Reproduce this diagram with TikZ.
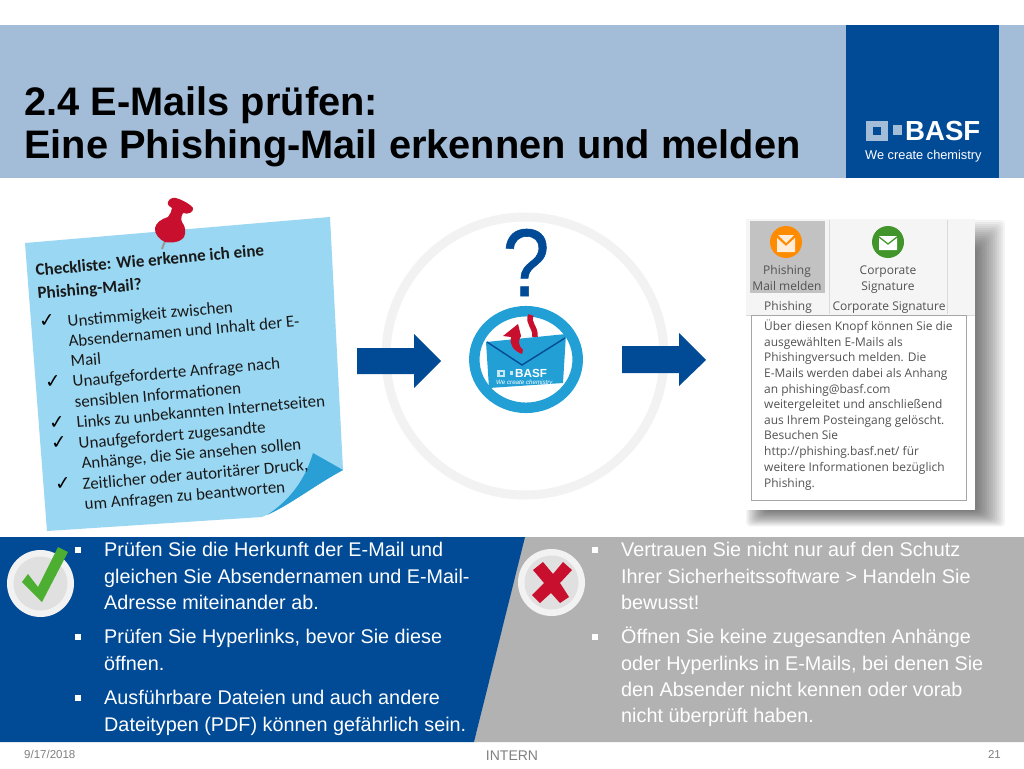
\documentclass[tikz,border=0pt]{standalone}
\usepackage{fontspec}
\setmainfont{Liberation Sans}
\newfontfamily\notefont{Carlito}
\newfontfamily\uifont{Open Sans}
\newfontfamily\symfont{DejaVu Sans}
\newfontfamily\qmfont[FakeBold=0.6]{Liberation Sans}
\definecolor{basfblue}{HTML}{004A96}
\definecolor{bandblue}{HTML}{A3BDD8}
\definecolor{notesky}{HTML}{9AD7F2}
\definecolor{foldsky}{HTML}{2A9FD6}
\definecolor{iconsky}{HTML}{22A0D6}
\definecolor{pinred}{HTML}{C8102E}
\definecolor{okgreen}{HTML}{4CAF32}
\definecolor{panelgray}{HTML}{B2B2B2}
\tikzset{
  x=1pt,y=-1pt,
  titletext/.style={anchor=base west,inner sep=0,font=\fontsize{39.8}{39.8}\selectfont\bfseries,text=black},
  notetext/.style={anchor=base west,inner sep=0,rotate=5,font=\notefont\fontsize{16.9}{16.9}\selectfont,text=black!90},
  notehead/.style={notetext,font=\notefont\fontsize{17}{17}\selectfont\bfseries},
  notecheck/.style={inner sep=0,rotate=5,font=\symfont\fontsize{19}{19}\selectfont,text=black},
  whitetext/.style={anchor=base west,inner sep=0,font=\fontsize{19.8}{19.8}\selectfont,text=white},
  bulletmark/.style={fill=white,minimum size=6pt,inner sep=0,shape=rectangle},
  uitext/.style={inner sep=0,anchor=base,font=\uifont\fontsize{12}{12}\selectfont,text=black!68},
  uibody/.style={inner sep=0,anchor=base west,font=\uifont\fontsize{11.95}{11.95}\selectfont,text=black!68},
  footertext/.style={inner sep=0,anchor=base,text=black!50},
}
\begin{document}
\begin{tikzpicture}
\useasboundingbox (0,0) rectangle (1024,768);
\fill[white] (0,0) rectangle (1024,768);
% header
\fill[bandblue] (0,25) rectangle (1024,178);
\fill[basfblue] (846,25) rectangle (999,178);
\node[titletext] (t1) at (24,115) {2.4 E-Mails prüfen:};
\node[titletext] (t2) at (24,158) {Eine Phishing-Mail erkennen und melden};
% logo
\fill[bandblue] (866,121) rectangle (888,141);
\fill[basfblue] (873,127) rectangle (881,135);
\fill[bandblue] (893,125) rectangle (902,135);
\node[inner sep=0,anchor=base west,text=white,font=\fontsize{27.6}{27.6}\selectfont\bfseries] (logo) at (905,140.5) {BASF};
\node[inner sep=0,anchor=base west,text=white,font=\fontsize{12.8}{12.8}\selectfont] (claim) at (865,159) {We create chemistry};
% sticky note
\fill[notesky] (25,243) -- (330,217) -- (343,470) .. controls (315,485) and (290,505) .. (262,517) -- (47,531) -- cycle;
\fill[foldsky] (313,453) -- (343,470) .. controls (315,485) and (290,505) .. (267,515) .. controls (290,500) and (305,480) .. cycle;
% pin
\draw[black!40,line width=2pt] (165,241) -- (162,249);
\fill[pinred] (168,202) .. controls (169,199) and (173,197) .. (176,198) .. controls (183,200) and (190,204) .. (193,208)
  .. controls (194,212) and (188,215) .. (183,213) .. controls (181,216) and (181,220) .. (182,222)
  .. controls (186,227) and (186,233) .. (184,237) .. controls (180,243) and (170,243) .. (165,242)
  .. controls (160,240) and (154,234) .. (155,228) .. controls (156,223) and (161,219) .. (168,217)
  .. controls (170,214) and (172,211) .. (172,208) .. controls (170,207) and (167,205) .. cycle;
% note text
\node[notehead] (n1) at (36,276) {Checkliste: Wie erkenne ich eine};
\node[notehead] (n2) at (38,299) {Phishing-Mail?};
\node[notetext] (n3) at (68,327) {Unstimmigkeit zwischen};
\node[notetext] (n4) at (69,347) {Absendernamen und Inhalt der E-};
\node[notetext] (n5) at (71,367) {Mail};
\node[notetext] (n6) at (73,387) {Unaufgeforderte Anfrage nach};
\node[notetext] (n7) at (75,408) {sensiblen Informationen};
\node[notetext] (n8) at (77,428) {Links zu unbekannten Internetseiten};
\node[notetext] (n9) at (79,449) {Unaufgefordert zugesandte};
\node[notetext] (n10) at (82,469) {Anhänge, die Sie ansehen sollen};
\node[notetext] (n11) at (83,490) {Zeitlicher oder autoritärer Druck,};
\node[notetext] (n12) at (85,510) {um Anfragen zu beantworten};
\node[notecheck] (c1) at (47,321) {✓};
\node[notecheck] (c2) at (53,382) {✓};
\node[notecheck] (c3) at (57,423) {✓};
\node[notecheck] (c4) at (59,443) {✓};
\node[notecheck] (c5) at (63,484) {✓};
% centre
\draw[black!5,line width=9pt] (525,356) circle (139);
\fill[basfblue] (357,348) -- (414,348) -- (414,334) -- (441,361) -- (414,388) -- (414,374) -- (357,374) -- cycle;
\fill[basfblue] (622,346) -- (679,346) -- (679,333) -- (706,360) -- (679,386) -- (679,373) -- (622,373) -- cycle;
\node[inner sep=0,anchor=base,text=basfblue,xscale=0.88,transform shape,font=\qmfont\fontsize{96}{96}\selectfont] (qm) at (526,296) {?};
\draw[iconsky,line width=10.5pt] (526,359.5) ellipse (51.7 and 48.3);
% curl behind envelope
\draw[pinred,line width=5.5pt] (531,315) .. controls (527,323) and (536,327) .. (535,337);
\fill[iconsky] (486,342) -- (566,334) -- (563,383) -- (489,388) -- cycle;
\draw[basfblue,line width=1.4pt] (487,342) -- (522,365) -- (565,338);
\fill[pinred] (518,324) -- (503,336) -- (511,337) .. controls (509,345) and (514,351) .. (522,354) -- (523,350) .. controls (518,345) and (518,341) .. (521,336) -- cycle;
\fill[white!75!iconsky] (497,370) rectangle (505,377);
\fill[iconsky] (499.5,372) rectangle (502.5,375);
\fill[white!75!iconsky] (510,371) rectangle (513,375);
\node[inner sep=0,anchor=base west,text=white,font=\fontsize{11.7}{11.7}\selectfont\bfseries] (elogo) at (515,377) {BASF};
\node[inner sep=0,anchor=base west,text=white,font=\fontsize{6.2}{6.2}\selectfont\itshape] (eclaim) at (496,384.5) {We create chemistry};
% screenshot shadow
\foreach \d in {2,4,...,30}{
  \fill[black,opacity=0.042,rounded corners=4pt] (767-\d*0.7,250-\d) rectangle (975+\d,510+\d*0.55);
}
\fill[white] (745,218) rectangle (975,510);
\fill[black!4] (746,219) rectangle (975,315);
\fill[black!24] (750,221) rectangle (825,293);
\draw[black!15] (829,220) -- (829,314) (947,220) -- (947,314) (746,315) -- (975,315);
\fill[orange!90!yellow] (786,242) circle (16);
\fill[white!85!orange] (777,238) -- (786,246) -- (795,238) -- (795,252) -- (777,252) -- cycle;
\fill[white!85!orange] (778,235) -- (794,235) -- (786,243) -- cycle;
\fill[okgreen!85!black] (888,242) circle (16);
\fill[white] (879,236) -- (888,243) -- (897,236) -- cycle;
\fill[white] (879,238) -- (888,245) -- (897,238) -- (897,250) -- (879,250) -- cycle;
\node[uitext] (b1) at (787,274) {Phishing};
\node[uitext] (b2) at (787,290) {Mail melden};
\node[uitext] (b3) at (888,274) {Corporate};
\node[uitext] (b4) at (888,290) {Signature};
\node[uitext] (b5) at (788,310) {Phishing};
\node[uitext] (b6) at (889,310) {Corporate Signature};
\draw[black!35,fill=white] (751,315) rectangle (966,500);
\node[uibody] (u1) at (764,330) {Über diesen Knopf können Sie die};
\node[uibody] (u2) at (764,346) {ausgewählten E-Mails als};
\node[uibody] (u3) at (764,361) {Phishingversuch melden. Die};
\node[uibody] (u4) at (764,377) {E-Mails werden dabei als Anhang};
\node[uibody] (u5) at (764,393) {an phishing@basf.com};
\node[uibody] (u6) at (764,408) {weitergeleitet und anschließend};
\node[uibody] (u7) at (764,424) {aus Ihrem Posteingang gelöscht.};
\node[uibody] (u8) at (764,439) {Besuchen Sie};
\node[uibody] (u9) at (764,455) {http://phishing.basf.net/ für};
\node[uibody] (u10) at (764,471) {weitere Informationen bezüglich};
\node[uibody] (u11) at (764,487) {Phishing.};
% bottom panels
\fill[panelgray] (524,537) -- (1024,537) -- (1024,742) -- (474,742) -- cycle;
\fill[basfblue] (0,537) -- (525,537) -- (474,742) -- (0,742) -- cycle;
\fill[black!5] (40.5,583.5) circle (33.5);
\fill[black!12] (40.5,583.5) circle (27);
\fill[okgreen] (22,582) -- (28,574) -- (38,587) -- (58,547) -- (68,552) -- (42,602) -- cycle;
\fill[black!5] (551.5,582.5) circle (33.5);
\fill[black!12] (551.5,582.5) circle (27);
\fill[pinred] (533,570) -- (543,562) -- (553,574) -- (563,562) -- (572,570) -- (560,583) -- (569,597) -- (560,603) -- (551,593) -- (540,603) -- (532,595) -- (544,583) -- cycle;
% left text
\node[bulletmark] (bl1) at (78,550) {};
\node[bulletmark] (bl2) at (78,637) {};
\node[bulletmark] (bl3) at (78,698) {};
\node[whitetext] (l1) at (104,556) {Prüfen Sie die Herkunft der E-Mail und};
\node[whitetext] (l2) at (104,583) {gleichen Sie Absendernamen und E-Mail-};
\node[whitetext] (l3) at (104,609) {Adresse miteinander ab.};
\node[whitetext] (l4) at (104,643) {Prüfen Sie Hyperlinks, bevor Sie diese};
\node[whitetext] (l5) at (104,670) {öffnen.};
\node[whitetext] (l6) at (104,704) {Ausführbare Dateien und auch andere};
\node[whitetext] (l7) at (104,731) {Dateitypen (PDF) können gefährlich sein.};
% right text
\node[bulletmark] (br1) at (595,550) {};
\node[bulletmark] (br2) at (595,637) {};
\node[whitetext] (r1) at (621,556) {Vertrauen Sie nicht nur auf den Schutz};
\node[whitetext] (r2) at (621,583) {Ihrer Sicherheitssoftware > Handeln Sie};
\node[whitetext] (r3) at (621,609) {bewusst!};
\node[whitetext] (r4) at (621,643) {Öffnen Sie keine zugesandten Anhänge};
\node[whitetext] (r5) at (621,670) {oder Hyperlinks in E-Mails, bei denen Sie};
\node[whitetext] (r6) at (621,696) {den Absender nicht kennen oder vorab};
\node[whitetext] (r7) at (621,722) {nicht überprüft haben.};
% footer
\node[footertext,anchor=base west,font=\fontsize{11.5}{11.5}\selectfont] (f1) at (24,758) {9/17/2018};
\node[footertext,font=\fontsize{14}{14}\selectfont] (f2) at (512,760) {INTERN};
\node[footertext,anchor=base east,font=\fontsize{11.5}{11.5}\selectfont] (f3) at (1001,758) {21};
\end{tikzpicture}
\end{document}
